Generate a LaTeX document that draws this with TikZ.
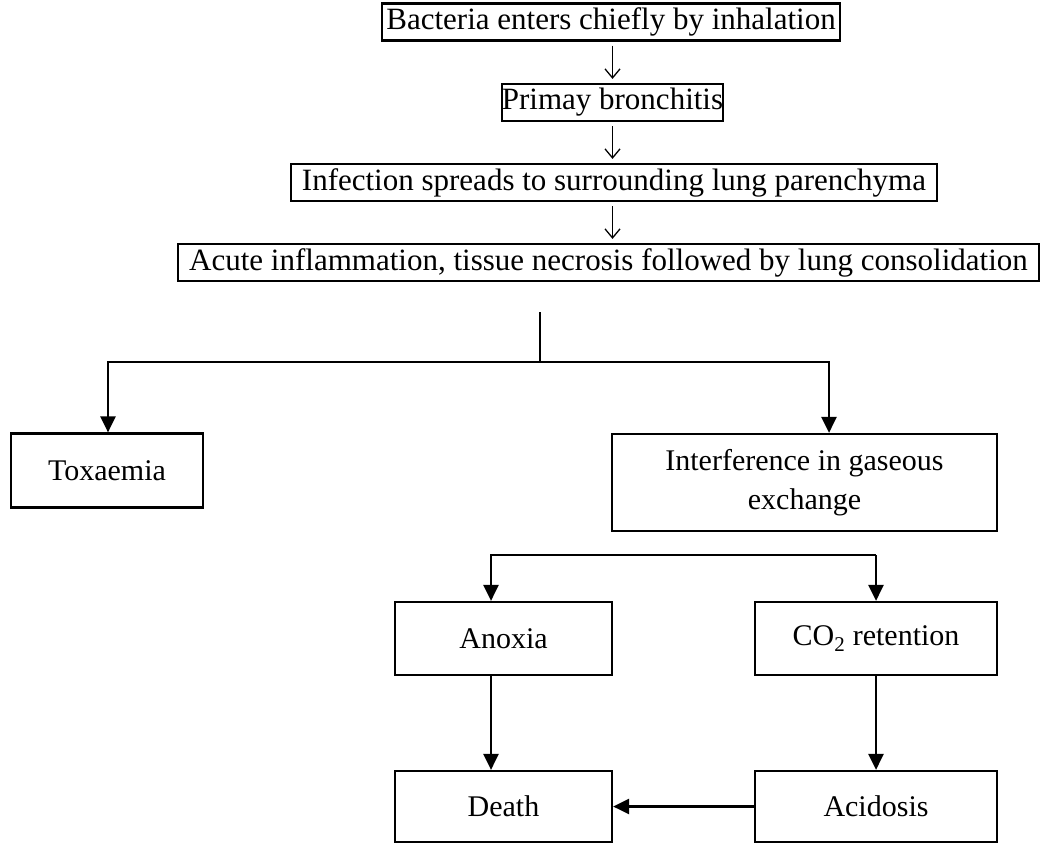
\documentclass[tikz,border=0pt]{standalone}
\usepackage{fontspec}
\setmainfont{Liberation Serif}
\usetikzlibrary{arrows.meta}
\begin{document}
\begin{tikzpicture}[x=1pt,y=-1pt,
  topbox/.style={draw, line width=2.2pt, inner sep=0pt, minimum height=37pt,
    font=\fontsize{31}{36}\selectfont},
  box/.style={draw, line width=2.2pt, inner sep=0pt, align=center,
    font=\fontsize{30}{39}\selectfont},
  plain/.style={line width=2.4pt, line cap=rect},
  link/.style={line width=2.6pt, -{Triangle[length=16pt,width=15pt]}},
  thinarrow/.style={line width=1.3pt, -{Straight Barb[length=9pt,width=15pt]}}]
\useasboundingbox (0,0) rectangle (1041,843);

% main chain
\node[topbox, minimum width=458pt] (b1) at (611,22) {Bacteria enters chiefly by inhalation};
\node[topbox, minimum width=219pt] (b2) at (612.5,102.5) {Primay bronchitis};
\node[topbox, minimum width=646pt] (b3) at (614,182.5) {Infection spreads to surrounding lung parenchyma};
\node[topbox, minimum width=861pt] (b4) at (608.5,262.5) {Acute inflammation, tissue necrosis followed by lung consolidation};

\draw[thinarrow] ([yshift=-4pt]b1.south -| b2.north) -- ([yshift=4pt]b2.north);
\draw[thinarrow] ([yshift=-4pt]b2.south) -- ([yshift=4pt]b3.north -| b2.south);
\draw[thinarrow] ([yshift=-4pt]b3.south -| b2.south) -- ([yshift=4pt]b4.north -| b2.south);

% consequences
\node[box, minimum width=192pt, minimum height=74pt] (tox) at (107,470.5) {Toxaemia};
\node[box, minimum width=385pt, minimum height=97pt] (inter) at (804.5,482.5) {Interference in gaseous\\exchange};
\node[box, minimum width=217pt, minimum height=73pt] (anox) at (503.5,638.5) {Anoxia};
\node[box, minimum width=242pt, minimum height=73pt] (co2) at (876,638.5) {CO\textsubscript{2} retention};
\node[box, minimum width=217pt, minimum height=71pt] (death) at (503.5,806.5) {Death};
\node[box, minimum width=242pt, minimum height=71pt] (acid) at (876,806.5) {Acidosis};

% first split
\coordinate (stem) at (540,313);
\coordinate (hub) at (540,362);
\coordinate (hubL) at (108,362);
\coordinate (hubR) at (829,362);
\draw[plain] (stem) -- (hub);
\draw[link] (hub) -- (hubL) -- (hubL |- tox.north);
\draw[link] (hub) -- (hubR) -- (hubR |- inter.north);

% second split
\coordinate (h2L) at (491,555);
\coordinate (h2R) at (876,555);
\draw[link] (h2R) -- (h2L) -- (h2L |- anox.north);
\draw[link] (h2R) -- (co2.north);

% outcomes
\draw[link] (anox.south -| h2L) -- (death.north -| h2L);
\draw[link] (co2) -- (acid);
\draw[link] (acid.west) -- (death.east);
\end{tikzpicture}
\end{document}
